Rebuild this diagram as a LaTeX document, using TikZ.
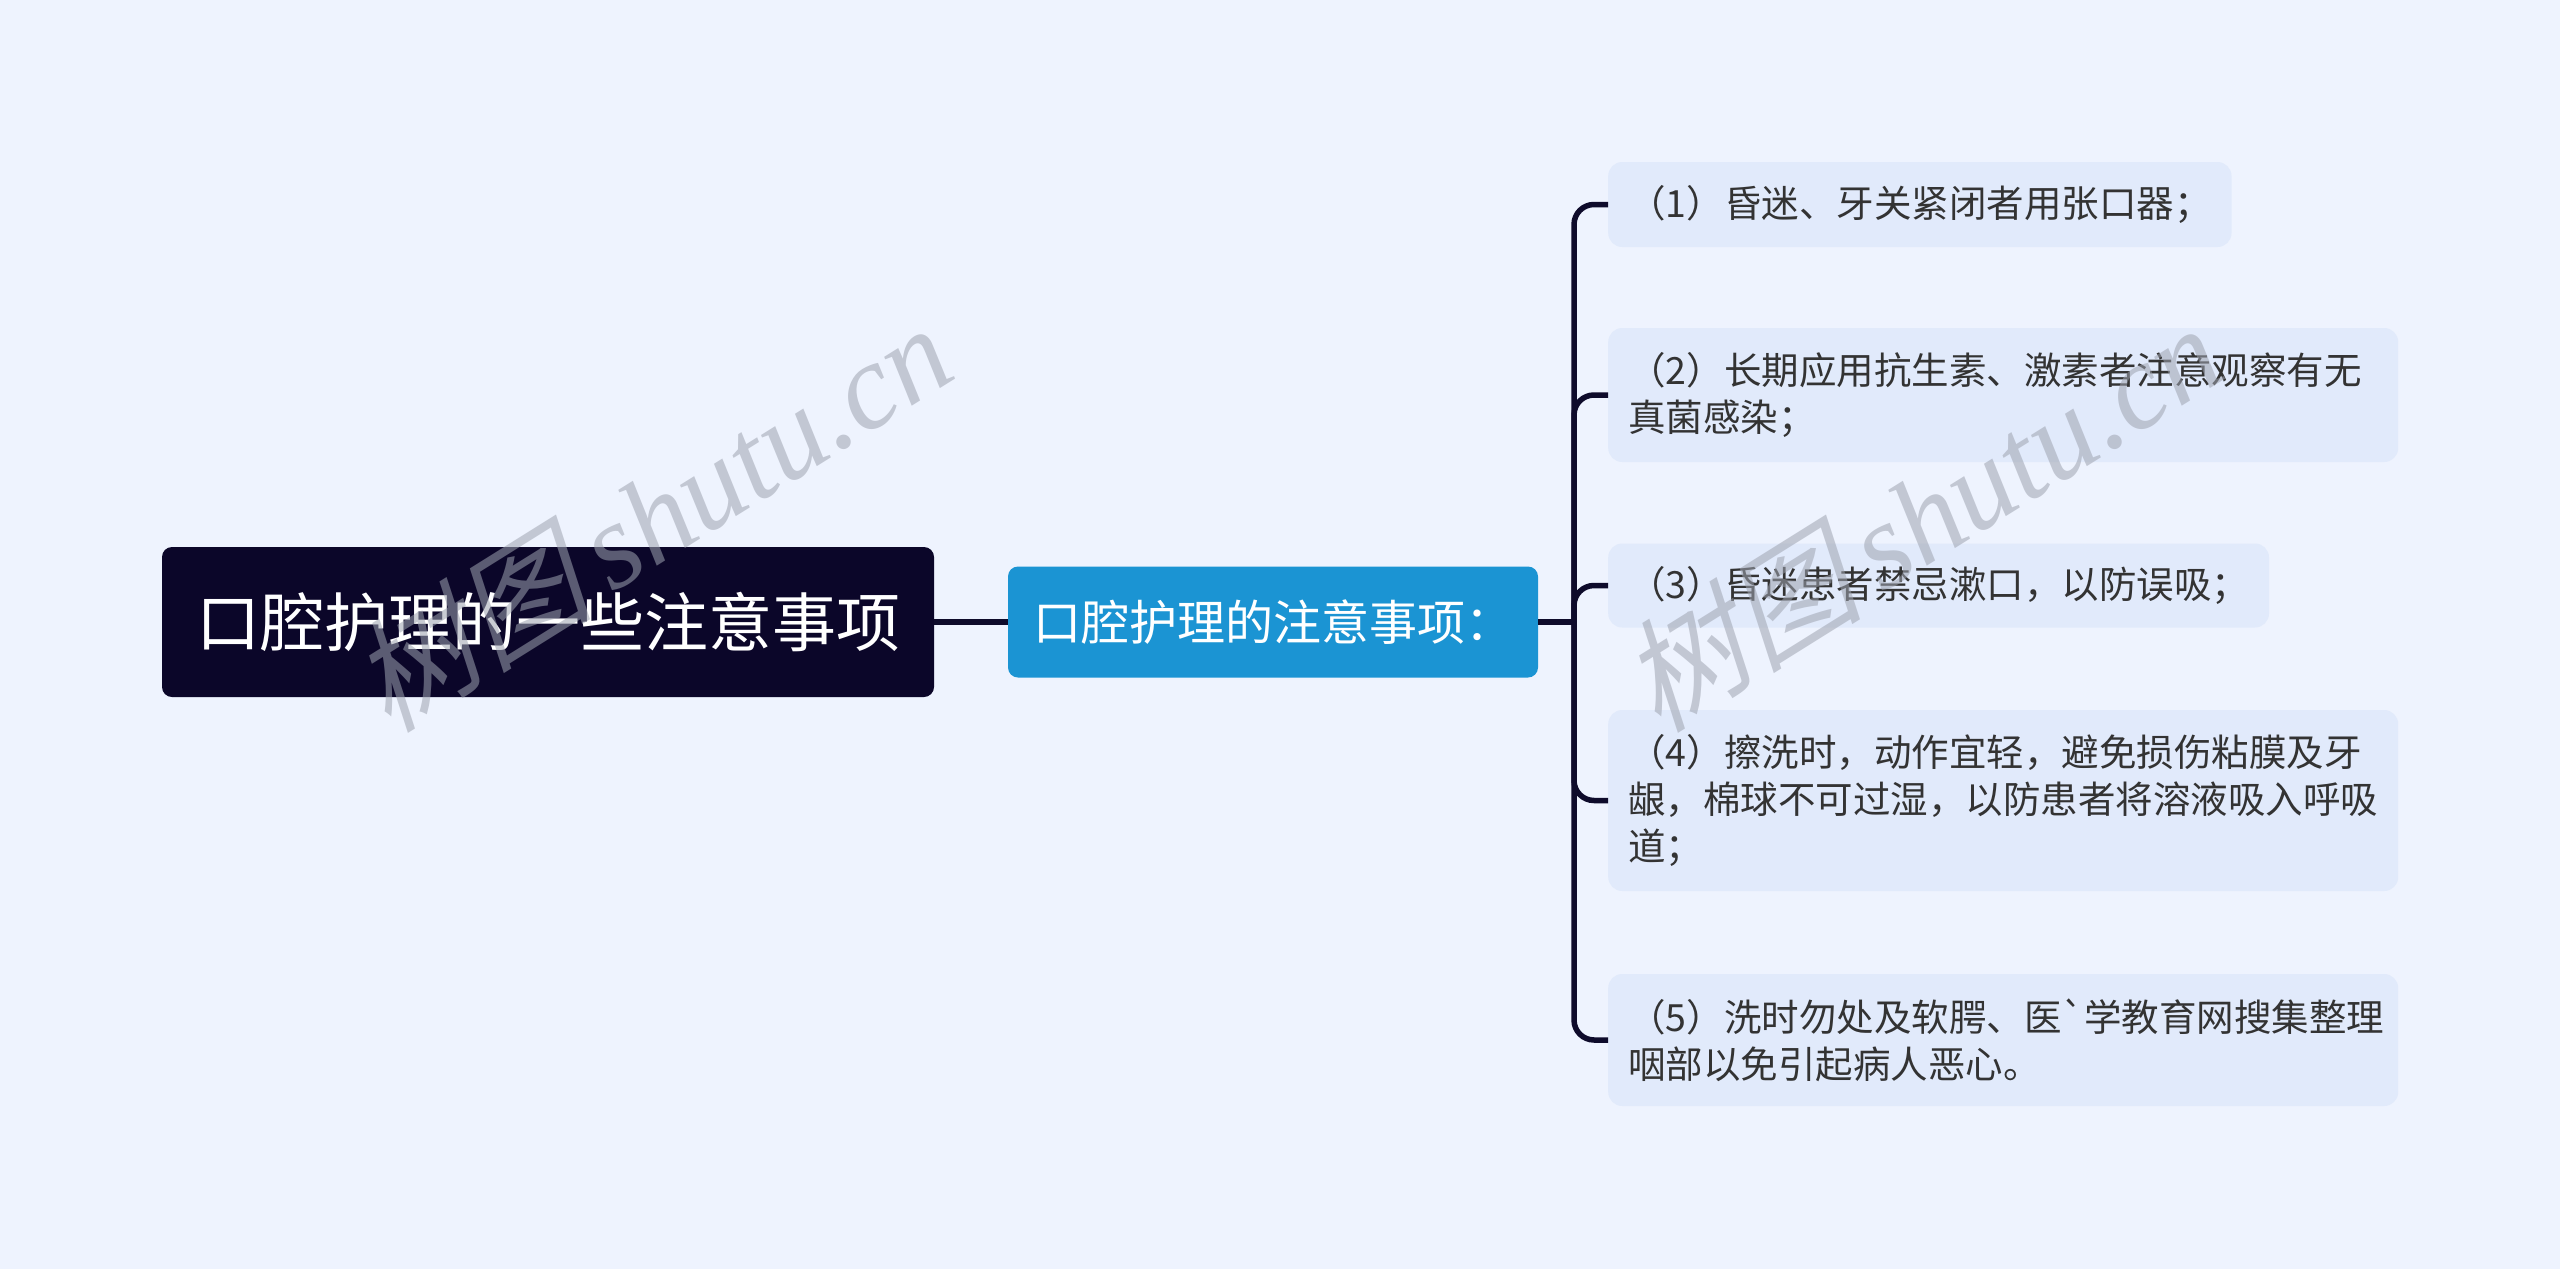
\documentclass[tikz,border=0pt]{standalone}
\usepackage{fontspec}
\newfontfamily\cjk{Noto Sans CJK SC}
\newfontfamily\wmcjk[FakeSlant=0.25]{Noto Sans CJK SC}
\newfontfamily\wmlat{Liberation Serif}
\definecolor{bgc}{HTML}{EEF3FE}
\definecolor{leaff}{HTML}{E1EAFB}
\definecolor{rootc}{HTML}{0B0629}
\definecolor{midc}{HTML}{1B94D3}
\definecolor{linec}{HTML}{0E0B2B}
\definecolor{txtc}{HTML}{333333}
\definecolor{wmc}{HTML}{9EA3B0}
\begin{document}
\begin{tikzpicture}[x=1pt,y=-1pt,
  conn/.style={draw=linec, line width=5.5pt},
  rootbox/.style={fill=rootc, rounded corners=10pt, text=white, inner sep=0pt,
    minimum width=772pt, minimum height=150pt, font=\cjk\fontsize{64}{72}\selectfont},
  midbox/.style={fill=midc, rounded corners=10pt, text=white, inner sep=0pt,
    minimum width=530pt, minimum height=111pt, font=\cjk\fontsize{48}{56}\selectfont},
  leafbox/.style={fill=leaff, rounded corners=14pt, text=txtc, anchor=west,
    inner xsep=20pt, inner ysep=0pt, align=left,
    font=\cjk\fontsize{37.5}{47}\selectfont},
  wm/.style={text=wmc, opacity=0.55, text opacity=0.55, inner sep=0pt,
    font=\fontsize{122}{130}\selectfont}]
\fill[bgc] (0,0) rectangle (2560,1269);
\useasboundingbox (0,0) rectangle (2560,1269);

\node[rootbox] (root) at (548,622) {口腔护理的一些注意事项};
\node[midbox] (mid) at (1273,622) {口腔护理的注意事项：};

\node[leafbox, minimum height=85pt] (l1) at (1608,204.5) {（1）昏迷、牙关紧闭者用张口器；};
\node[leafbox, minimum height=134pt, text width=750pt] (l2) at (1608,395) {（2）长期应用抗生素、激素者注意观察有无\\真菌感染；};
\node[leafbox, minimum height=84pt] (l3) at (1608,585.5) {（3）昏迷患者禁忌漱口，以防误吸；};
\node[leafbox, minimum height=181pt, text width=750pt] (l4) at (1608,800.5) {（4）擦洗时，动作宜轻，避免损伤粘膜及牙\\龈，棉球不可过湿，以防患者将溶液吸入呼吸\\道；};
\node[leafbox, minimum height=132pt, text width=750pt] (l5) at (1608,1040) {（5）洗时勿处及软腭、医\symbol{96}学教育网搜集整理\\咽部以免引起病人恶心。};

\coordinate (j) at (1574,622);
\draw[conn] (root.east) -- (mid.west);
\draw[conn] (mid.east) -- (j);
\foreach \n in {l1,l2,l3,l4,l5}{
  \draw[conn, rounded corners=20pt] (j) |- (\n.west);
}

\node[wm, rotate=32] (wm1) at (650,516) {{\wmcjk 树图}\,{\wmlat\itshape shutu.cn}};
\node[wm, rotate=32] (wm2) at (1920,516) {{\wmcjk 树图}\,{\wmlat\itshape shutu.cn}};
\end{tikzpicture}
\end{document}
